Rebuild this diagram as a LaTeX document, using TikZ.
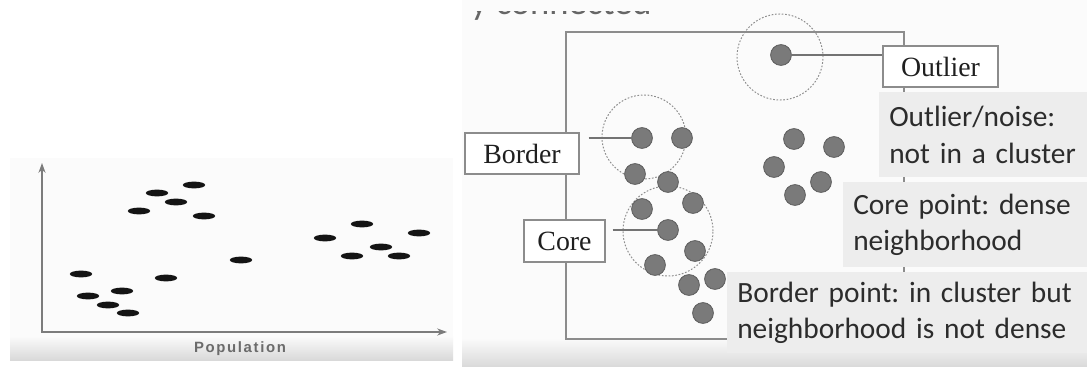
\documentclass[tikz,border=0pt]{standalone}
\usepackage{fontspec}
\setmainfont{Liberation Serif}
\setsansfont{Carlito}
\newfontfamily\axisfont{Liberation Sans}
\usetikzlibrary{arrows.meta,calc,shapes.geometric}
\frenchspacing

\definecolor{panelbg}{HTML}{FBFBFB}
\definecolor{panelshade}{HTML}{D9D9D9}
\definecolor{dotfill}{HTML}{7A7A7A}
\definecolor{dotline}{HTML}{5E5E5E}
\definecolor{framegray}{HTML}{8C8C8C}
\definecolor{ringgray}{HTML}{8E8E8E}
\definecolor{notefill}{HTML}{EDEDED}
\definecolor{notetext}{HTML}{2C2C2C}
\definecolor{axisgray}{HTML}{7C7C7C}

\tikzset{
  mark dash/.style={fill=black!92, draw=none, ellipse, minimum width=0.56cm, minimum height=0.17cm, inner sep=0pt},
  dot/.style={circle, fill=dotfill, draw=dotline, line width=0.6pt, minimum size=0.52cm, inner sep=0pt},
  ring/.style={draw=ringgray, line width=0.7pt, dash pattern=on 1.2pt off 1.2pt},
  frameline/.style={draw=framegray, line width=1.3pt},
  leader/.style={draw=black!55, line width=1pt},
  labelbox/.style={draw=framegray, fill=white, line width=1pt, inner sep=0pt,
    font=\fontsize{19.8pt}{22pt}\selectfont, text=black!88},
  note/.style={fill=notefill, draw=none, anchor=north west, align=left,
    inner xsep=0.25cm, inner ysep=0pt, text=notetext,
    font=\sffamily\fontsize{20.9pt}{26.2pt}\selectfont},
  axis/.style={draw=axisgray, line width=1.4pt, arrows={Stealth[length=7pt,width=5pt]-Stealth[length=7pt,width=5pt]}},
}

\begin{document}
\begin{tikzpicture}[x=0.025cm, y=-0.025cm]
\useasboundingbox (0,0) rectangle (1087,367);
\fill[white] (0,0) rectangle (1087,367);

% ---------- left panel: scatter plot ----------
\fill[panelbg] (10,158) rectangle (453,360);
\shade[top color=panelbg, bottom color=panelshade] (10,336) rectangle (453,360);

\coordinate (origin) at (42,332);
\coordinate (ytip) at (42,163);
\coordinate (xtip) at (447,332);
\draw[axis] (ytip) -- (origin) -- (xtip);
\node[font=\axisfont\bfseries\fontsize{10.6pt}{11pt}\selectfont\addfontfeatures{LetterSpace=11},
      text=black!58] (xlabel) at (240,349) {Population};

\foreach \i/\p in {1/{81,274},2/{88,296},3/{122,291},4/{108,305},5/{128,313},
                   6/{139,211},7/{157,193},8/{176,202},9/{194,185},10/{204,216},
                   11/{166,278},12/{241,260},
                   13/{325,238},14/{362,224},15/{381,247},16/{419,233},17/{352,256},18/{399,256}}
  \node[mark dash] (m\i) at (\p) {};

% ---------- right panel: DBSCAN point types ----------
\fill[panelbg] (462,0) rectangle (1087,367);
\shade[top color=panelbg, bottom color=panelshade] (462,338) rectangle (1087,367);

% heading, only its lowest strip shows below the top edge
\begin{scope}
  \clip (462,11) rectangle (720,40);
  \node[anchor=base west, font=\sffamily\fontsize{26pt}{30pt}\selectfont, text=black!60]
    (heading) at (466,15) {y connected};
\end{scope}
\fill[panelbg] (462,0) rectangle (720,11);

% plot frame
\draw[frameline] (566,32) rectangle (904,339);

% neighbourhood rings
\draw[ring] (780,57) circle[radius=1.075cm];
\draw[ring] (644,137) circle[radius=1.05cm];
\draw[ring] (668,231) circle[radius=1.125cm];

% outlier
\node[dot] (out) at (781,55) {};

% second cluster
\foreach \i/\p in {1/{794,139},2/{834,147},3/{774,167},4/{821,182},5/{795,195}}
  \node[dot] (r\i) at (\p) {};

% first cluster
\foreach \i/\p in {1/{642,138},2/{682,138},3/{635,174},4/{668,182},5/{642,209},
                   6/{693,203},7/{668,230},8/{695,251},9/{655,265},10/{689,285},
                   11/{715,279},12/{703,313}}
  \node[dot] (c\i) at (\p) {};

% labelled boxes
\node[labelbox, minimum width=2.875cm, minimum height=1.025cm] (outlierbox) at (940.5,66.5) {Outlier};
\node[labelbox, minimum width=2.85cm, minimum height=1.025cm] (borderbox) at (522,153.5) {Border};
\node[labelbox, minimum width=2.025cm, minimum height=1.05cm] (corebox) at (564.5,241) {Core};

% leader lines
\draw[leader] (out.east) -- (out.east -| outlierbox.west);
\draw[leader] ($(borderbox.east |- c1.west)+(9,0)$) -- (c1.west);
\draw[leader] ($(corebox.east |- c7.west)+(7,0)$) -- (c7.west);

% explanatory notes
\node[note, text width=4.7cm, minimum height=2.125cm] (noteout) at (879,92)
  {Outlier/noise:\\not in a cluster};
\node[note, text width=5.6cm, minimum height=2.125cm] (notecore) at (843,182)
  {Core point: dense\\neighborhood};
\node[note, text width=8.5cm, minimum height=2.025cm] (noteborder) at (727,272)
  {Border point: in cluster but\\neighborhood is not dense};
\end{tikzpicture}
\end{document}
